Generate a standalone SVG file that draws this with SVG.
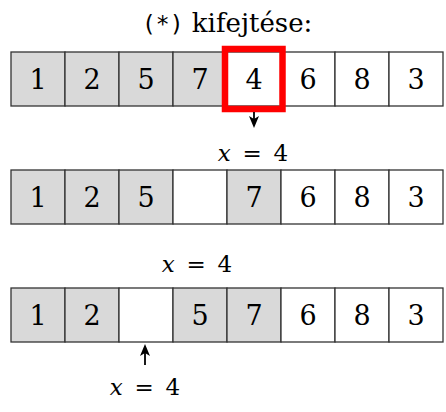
<svg xmlns="http://www.w3.org/2000/svg" width="446" height="412" viewBox="0 0 446 412">
<defs>
<style>
.c{stroke:#333;stroke-width:1.3}
.g{fill:#d9d9d9}
.w{fill:#fff}
.d{font-size:27px;text-anchor:middle}
.m{font-size:23px;text-anchor:middle;word-spacing:4.5px}
</style>
</defs>
<g id="title"><text x="142" y="32" font-family="DejaVu Serif, serif" font-size="26" fill="#000"><tspan font-family="DejaVu Sans Mono, monospace" font-size="23">(*)</tspan> kifejtése:</text></g>
<g id="row1" font-family="DejaVu Serif, serif" fill="#000">
<g id="r1c1"><rect class="c g" x="11" y="52" width="54" height="54"/><text class="d" x="38" y="89">1</text></g>
<g id="r1c2"><rect class="c g" x="65" y="52" width="54" height="54"/><text class="d" x="92" y="89">2</text></g>
<g id="r1c3"><rect class="c g" x="119" y="52" width="54" height="54"/><text class="d" x="146" y="89">5</text></g>
<g id="r1c4"><rect class="c g" x="173" y="52" width="54" height="54"/><text class="d" x="200" y="89">7</text></g>
<g id="r1c5"><rect class="c w" x="227" y="52" width="54" height="54"/><text class="d" x="254" y="89">4</text></g>
<g id="r1c6"><rect class="c w" x="281" y="52" width="54" height="54"/><text class="d" x="308" y="89">6</text></g>
<g id="r1c7"><rect class="c w" x="335" y="52" width="54" height="54"/><text class="d" x="362" y="89">8</text></g>
<g id="r1c8"><rect class="c w" x="389" y="52" width="54" height="54"/><text class="d" x="416" y="89">3</text></g>
<g id="highlight"><rect x="225" y="49" width="57.5" height="60" fill="none" stroke="#f00" stroke-width="6.5"/></g>
</g>
<g id="row2" font-family="DejaVu Serif, serif" fill="#000">
<g id="r2c1"><rect class="c g" x="11" y="170" width="54" height="54"/><text class="d" x="38" y="207">1</text></g>
<g id="r2c2"><rect class="c g" x="65" y="170" width="54" height="54"/><text class="d" x="92" y="207">2</text></g>
<g id="r2c3"><rect class="c g" x="119" y="170" width="54" height="54"/><text class="d" x="146" y="207">5</text></g>
<g id="r2c4"><rect class="c w" x="173" y="170" width="54" height="54"/></g>
<g id="r2c5"><rect class="c g" x="227" y="170" width="54" height="54"/><text class="d" x="254" y="207">7</text></g>
<g id="r2c6"><rect class="c w" x="281" y="170" width="54" height="54"/><text class="d" x="308" y="207">6</text></g>
<g id="r2c7"><rect class="c w" x="335" y="170" width="54" height="54"/><text class="d" x="362" y="207">8</text></g>
<g id="r2c8"><rect class="c w" x="389" y="170" width="54" height="54"/><text class="d" x="416" y="207">3</text></g>
</g>
<g id="row3" font-family="DejaVu Serif, serif" fill="#000">
<g id="r3c1"><rect class="c g" x="11" y="288" width="54" height="54"/><text class="d" x="38" y="325">1</text></g>
<g id="r3c2"><rect class="c g" x="65" y="288" width="54" height="54"/><text class="d" x="92" y="325">2</text></g>
<g id="r3c3"><rect class="c w" x="119" y="288" width="54" height="54"/></g>
<g id="r3c4"><rect class="c g" x="173" y="288" width="54" height="54"/><text class="d" x="200" y="325">5</text></g>
<g id="r3c5"><rect class="c g" x="227" y="288" width="54" height="54"/><text class="d" x="254" y="325">7</text></g>
<g id="r3c6"><rect class="c w" x="281" y="288" width="54" height="54"/><text class="d" x="308" y="325">6</text></g>
<g id="r3c7"><rect class="c w" x="335" y="288" width="54" height="54"/><text class="d" x="362" y="325">8</text></g>
<g id="r3c8"><rect class="c w" x="389" y="288" width="54" height="54"/><text class="d" x="416" y="325">3</text></g>
</g>
<g id="labels" font-family="DejaVu Serif, serif" fill="#000">
<text class="m" x="253" y="161"><tspan font-style="italic">x</tspan> = 4</text>
<text class="m" x="197" y="272"><tspan font-style="italic">x</tspan> = 4</text>
<text class="m" x="145" y="395"><tspan font-style="italic">x</tspan> = 4</text>
</g>
<g id="connectors">
<line x1="254" y1="112" x2="254" y2="120" stroke="#000" stroke-width="1.8"/>
<path d="M249,116 L254,128 L259,116 L254,119 z" fill="#000"/>
<line x1="145" y1="365" x2="145" y2="353" stroke="#000" stroke-width="1.8"/>
<path d="M140,356 L145,344 L150,356 L145,353 z" fill="#000"/>
</g>
</svg>
